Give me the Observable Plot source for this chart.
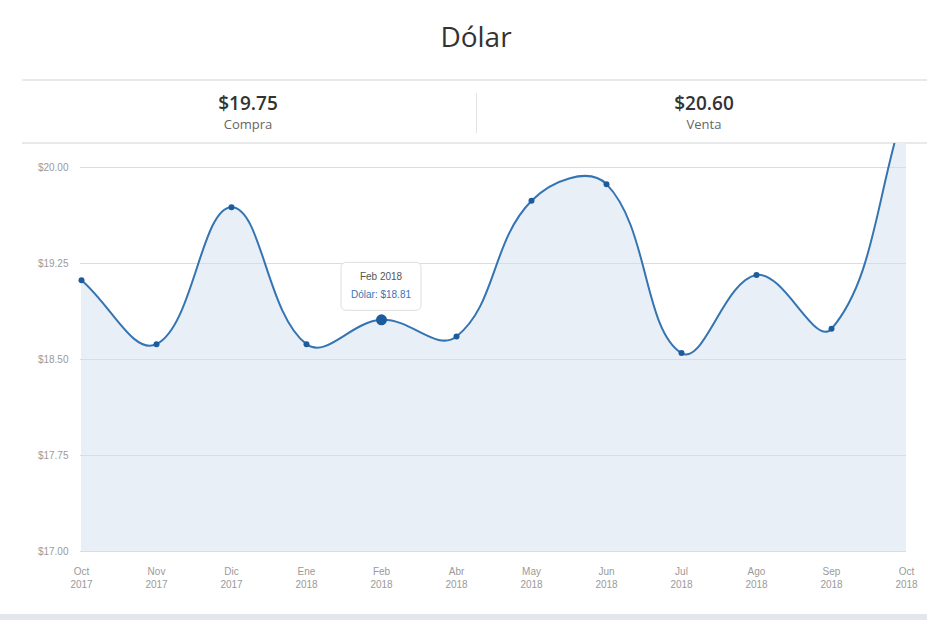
<!DOCTYPE html>
<html>
<head>
<meta charset="utf-8">
<script src="https://cdn.jsdelivr.net/npm/d3@7"></script>
<script src="https://cdn.jsdelivr.net/npm/@observablehq/plot@0.6"></script>
<style>
  html, body { margin: 0; padding: 0; background: #fff; }
  #page { position: relative; width: 927px; height: 620px; overflow: hidden; background: #fff; font-family: "Open Sans", "Liberation Sans", sans-serif; }
  #title { position: absolute; left: 0; width: 952px; top: 16px; text-align: center; font-size: 28px; color: #333; line-height: 40px; }
  .rule { position: absolute; left: 22px; right: 0; height: 2px; background: #e9e9e9; }
  #divider { position: absolute; left: 476px; top: 93px; width: 1px; height: 40px; background: #e2e2e2; }
  .stat { position: absolute; top: 90px; width: 300px; text-align: center; }
  .stat .v { font-size: 19px; font-weight: 600; color: #333; line-height: 26px; }
  .stat .l { font-size: 13px; color: #666; line-height: 16px; }
  #chart { position: absolute; left: 0; top: 143px; }
  #bottom { position: absolute; left: 0; right: 0; top: 614px; height: 6px; background: #e3e7ed; }
</style>
</head>
<body>
<div id="page">
  <div id="title">Dólar</div>
  <div class="rule" style="top:79px"></div>
  <div class="stat" style="left:98px"><div class="v" id="compraV"></div><div class="l">Compra</div></div>
  <div id="divider"></div>
  <div class="stat" style="left:554px"><div class="v" id="ventaV"></div><div class="l">Venta</div></div>
  <div class="rule" style="top:142px"></div>
  <div id="chart"></div>
  <div id="bottom"></div>
</div>
<script>
const months = ["Oct 2017","Nov 2017","Dic 2017","Ene 2018","Feb 2018","Abr 2018","May 2018","Jun 2018","Jul 2018","Ago 2018","Sep 2018","Oct 2018"];
const values = [19.12, 18.62, 19.69, 18.62, 18.81, 18.68, 19.74, 19.87, 18.55, 19.16, 18.74, 20.52];
const yTicks = [17.00, 17.75, 18.50, 19.25, 20.00];
const compra = 19.75;
const venta = 20.60;
const highlighted = "Feb 2018";

document.getElementById("compraV").textContent = "$" + compra.toFixed(2);
document.getElementById("ventaV").textContent = "$" + venta.toFixed(2);

const data = months.map((m, i) => ({month: m, value: values[i]}));
const fmt = d => "$" + d.toFixed(2);

// Tension spline (Bezier control points from neighbouring points), as a d3-style curve
class TensionSpline {
  constructor(context, t) { this._context = context; this._t = t; }
  areaStart() { this._line = 0; }
  areaEnd() { this._line = NaN; }
  lineStart() { this._pts = []; }
  lineEnd() {
    const p = this._pts, n = p.length, c = this._context, t = this._t;
    if (n) {
      if (this._line) c.lineTo(p[0][0], p[0][1]); else c.moveTo(p[0][0], p[0][1]);
      const cp = p.map((cur, i) => {
        const prev = p[i - 1] || cur, next = p[i + 1] || cur;
        const d01 = Math.hypot(cur[0] - prev[0], cur[1] - prev[1]);
        const d12 = Math.hypot(next[0] - cur[0], next[1] - cur[1]);
        let s01 = d01 / (d01 + d12), s12 = d12 / (d01 + d12);
        if (isNaN(s01)) s01 = 0;
        if (isNaN(s12)) s12 = 0;
        const fa = t * s01, fb = t * s12;
        return {
          px: cur[0] - fa * (next[0] - prev[0]), py: cur[1] - fa * (next[1] - prev[1]),
          nx: cur[0] + fb * (next[0] - prev[0]), ny: cur[1] + fb * (next[1] - prev[1])
        };
      });
      for (let i = 1; i < n; i++) c.bezierCurveTo(cp[i - 1].nx, cp[i - 1].ny, cp[i].px, cp[i].py, p[i][0], p[i][1]);
    }
    if (this._line || (this._line !== 0 && n === 1)) c.closePath();
    this._line = 1 - this._line;
  }
  point(x, y) { this._pts.push([+x, +y]); }
}
const spline = context => new TensionSpline(context, 0.4);

const chart = Plot.plot({
  width: 927,
  height: 471,
  marginTop: 24,
  marginBottom: 63,
  marginLeft: 80,
  marginRight: 21,
  style: {fontFamily: "'Liberation Sans', Arial, sans-serif", fontSize: "10px", color: "#999", overflow: "hidden", background: "transparent"},
  x: {type: "point", domain: months, padding: 0, axis: null},
  y: {domain: [17, 20], axis: null},
  marks: [
    Plot.areaY(data, {x: "month", y1: 17, y2: "value", fill: "#e8eff7", curve: spline}),
    Plot.ruleY(yTicks, {stroke: "#dcdcdc", strokeWidth: 1}),
    Plot.lineY(data, {x: "month", y: "value", stroke: "#3574b2", strokeWidth: 2, curve: spline}),
    Plot.dot(data.filter(d => d.month !== highlighted), {x: "month", y: "value", r: 3, fill: "#1c5c9c"}),
    Plot.dot(data.filter(d => d.month === highlighted), {x: "month", y: "value", r: 5.5, fill: "#1c5c9c"}),
    Plot.text(yTicks, {y: d => d, frameAnchor: "left", dx: -12, textAnchor: "end", text: fmt, fill: "#9a9a9a"}),
    Plot.text(months, {x: d => d, frameAnchor: "bottom", dy: 14, lineAnchor: "top", lineHeight: 1.3, text: d => d.replace(" ", "\n"), fill: "#9a9a9a"})
  ]
});
document.getElementById("chart").appendChild(chart);

// tooltip anchored at the highlighted point through the plot's scales
const hp = data.find(d => d.month === highlighted);
const px = chart.scale("x").apply(hp.month);
const py = chart.scale("y").apply(hp.value);
const svg = d3.select(chart);
const g = svg.append("g").attr("transform", `translate(${px},${py - 9})`);
g.append("rect").attr("x", -40).attr("y", -48).attr("width", 80).attr("height", 48).attr("rx", 5)
  .attr("fill", "#fff").attr("stroke", "#dedede");
g.append("text").attr("x", 0).attr("y", -34).attr("text-anchor", "middle").attr("dy", "0.35em")
  .attr("fill", "#555").attr("font-size", 10).text(hp.month);
g.append("text").attr("x", 0).attr("y", -16).attr("text-anchor", "middle").attr("dy", "0.35em")
  .attr("fill", "#3a75b5").attr("font-size", 10).text("Dólar: $" + hp.value.toFixed(2));
</script>
</body>
</html>
